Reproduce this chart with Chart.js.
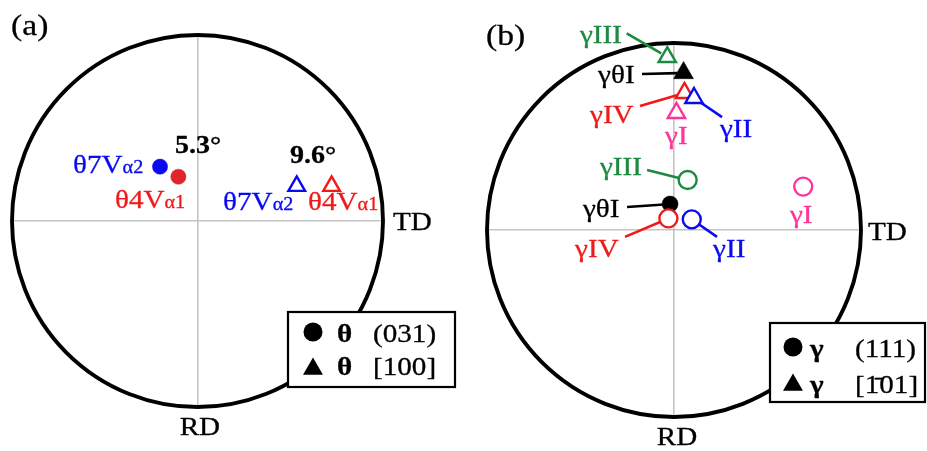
<!DOCTYPE html>
<html>
<head>
<meta charset="utf-8">
<script src="https://cdn.jsdelivr.net/npm/chart.js@4/dist/chart.umd.min.js"></script>
<style>
  html, body { margin: 0; padding: 0; background: #fff; }
  #wrap { position: relative; width: 927px; height: 451px; overflow: hidden; }
  canvas { position: absolute; top: 0; }
  #pa { left: 0; }
  #pb { left: 463px; }
</style>
</head>
<body>
<div id="wrap">
  <canvas id="pa" width="463" height="451"></canvas>
  <canvas id="pb" width="464" height="451"></canvas>
</div>
<script>
// (a) cementite (θ) variant poles, projected onto the unit circle
const thetaVariants = ['θ7Vα2', 'θ4Vα1'];
const theta031X = [-0.202, -0.103];
const theta031Y = [0.292, 0.238];
const theta100X = [0.535, 0.723];
const theta100Y = [0.188, 0.188];
const misorientation = ['5.3°', '9.6°'];

// (b) austenite (γ) variant poles, projected onto the unit circle
const gammaVariants = ['γI', 'γII', 'γIII', 'γIV', 'γθI'];
const gamma111X = [0.691, 0.095, 0.073, -0.030, -0.021];
const gamma111Y = [0.232, 0.057, 0.267, 0.062, 0.139];
const gamma101X = [0.013, 0.107, -0.036, 0.056, 0.051];
const gamma101Y = [0.626, 0.706, 0.925, 0.733, 0.840];

// axis / legend wording
const sampleAxes = ['TD', 'RD'];
const thetaPlanes = ['(031)', '[100]'];
const gammaPlanes = ['(111)', '[1\u030401]'];

// ---------------------------------------------------------------------------
const SERIF = '"Liberation Serif", "Times New Roman", serif';
const SX = 1.12; // the lettering is a little wider than plain Times
const BLUE = '#0a0af2', RED = '#f01a1a', RED_DOT = '#e0262c', GREEN = '#1c8a40', PINK = '#ff3399', BLACK = '#000000';

function fontOf(size, bold) { return (bold ? 'bold ' : '') + size + 'px ' + SERIF; }

// draws a run of text pieces [text, size, bold] starting at (x, y) baseline
function drawParts(ctx, parts, x, y, color, align) {
  ctx.save();
  ctx.translate(x, y);
  ctx.scale(SX, 1);
  ctx.fillStyle = color;
  ctx.strokeStyle = color;
  ctx.lineWidth = 0.3;
  ctx.lineJoin = 'round';
  ctx.textBaseline = 'alphabetic';
  ctx.textAlign = 'left';
  let w = 0;
  parts.forEach(p => { ctx.font = fontOf(p[1], p[2]); w += ctx.measureText(p[0]).width; });
  let cx = align === 'center' ? -w / 2 : 0;
  parts.forEach(p => {
    ctx.font = fontOf(p[1], p[2]);
    ctx.fillText(p[0], cx, 0);
    ctx.strokeText(p[0], cx, 0);
    cx += ctx.measureText(p[0]).width;
  });
  ctx.restore();
}

function marker(ctx, style, x, y, r, fill, stroke, lw) {
  ctx.save();
  ctx.beginPath();
  if (style === 'circle') {
    ctx.arc(x, y, r, 0, Math.PI * 2);
  } else {
    for (let k = 0; k < 3; k++) {
      const a = k * 2 * Math.PI / 3;
      const px = x + Math.sin(a) * r, py = y - Math.cos(a) * r;
      k ? ctx.lineTo(px, py) : ctx.moveTo(px, py);
    }
    ctx.closePath();
  }
  if (fill) { ctx.fillStyle = fill; ctx.fill(); }
  if (stroke) { ctx.lineWidth = lw; ctx.strokeStyle = stroke; ctx.stroke(); }
  ctx.restore();
}

// split "θ7Vα2" into the large part and the small α-suffix
function variantParts(name, big, small) {
  const m = name.match(/^(.*?)(α\d)$/);
  return m ? [[m[1], big], [m[2], small]] : [[name, big]];
}

// projection circle, reference cross, labels, leader lines and key box
const poleFigure = {
  id: 'poleFigure',
  beforeDatasetsDraw(chart, args, opts) {
    const { ctx, scales: { x, y } } = chart;
    const cx = x.getPixelForValue(0), cy = y.getPixelForValue(0);
    const rx = x.getPixelForValue(1) - cx, ry = cy - y.getPixelForValue(1);
    ctx.save();
    ctx.lineWidth = 3.9;
    ctx.strokeStyle = BLACK;
    ctx.beginPath();
    ctx.ellipse(cx, cy, rx, ry, 0, 0, Math.PI * 2);
    ctx.stroke();
    // leader lines from labels to their poles
    (opts.leaders || []).forEach(l => {
      const meta = chart.getDatasetMeta(l.ds);
      const el = meta.data[l.pt];
      const sx = x.getPixelForValue(l.x), sy = y.getPixelForValue(l.y);
      const ex = el.x, ey = el.y;
      const d = Math.hypot(ex - sx, ey - sy);
      const trim = (l.trim || 0);
      const tx = ex - (ex - sx) / d * trim, ty = ey - (ey - sy) / d * trim;
      ctx.beginPath();
      ctx.lineWidth = 2.6;
      ctx.strokeStyle = l.color;
      ctx.moveTo(sx, sy);
      ctx.lineTo(tx, ty);
      ctx.stroke();
    });
    ctx.restore();
  },
  afterDatasetsDraw(chart, args, opts) {
    const { ctx, scales: { x, y } } = chart;
    (opts.notes || []).forEach(n => {
      drawParts(ctx, n.parts, x.getPixelForValue(n.x), y.getPixelForValue(n.y), n.color, n.align);
    });
    const k = opts.key;
    if (k) {
      ctx.save();
      ctx.fillStyle = '#fff';
      ctx.fillRect(k.x, k.y, k.w, k.h);
      ctx.lineWidth = 2.2;
      ctx.strokeStyle = BLACK;
      ctx.strokeRect(k.x, k.y, k.w, k.h);
      ctx.restore();
      k.rows.forEach(r => {
        marker(ctx, r.style, k.x + k.mx, k.y + r.my, r.r, BLACK, null, 0);
        drawParts(ctx, [[k.sym, k.symSize, true]], k.x + k.sx, k.y + r.base, BLACK);
        drawParts(ctx, [[r.text, 26]], k.x + k.tx, k.y + r.base, BLACK);
      });
    }
  }
};

function baseOptions(padding, plugOpts) {
  return {
    responsive: false,
    animation: false,
    events: [],
    layout: { padding },
    plugins: { legend: { display: false }, tooltip: { enabled: false }, poleFigure: plugOpts },
    scales: {
      x: {
        type: 'linear', min: -1, max: 1,
        ticks: { display: false, stepSize: 1 },
        border: { display: false },
        grid: { drawTicks: false, lineWidth: 1.6, color: c => c.tick && c.tick.value === 0 ? '#c4c4c4' : 'rgba(0,0,0,0)' }
      },
      y: {
        type: 'linear', min: -1, max: 1,
        ticks: { display: false, stepSize: 1 },
        border: { display: false },
        grid: { drawTicks: false, lineWidth: 1.6, color: c => c.tick && c.tick.value === 0 ? '#c4c4c4' : 'rgba(0,0,0,0)' }
      }
    }
  };
}

// ------------------------------- panel (a) ---------------------------------
const thetaColors = [BLUE, RED];
const thetaDotColors = [BLUE, RED_DOT];
const aDatasets = thetaVariants.map((name, i) => ({
  label: name,
  data: [{ x: theta031X[i], y: theta031Y[i] }, { x: theta100X[i], y: theta100Y[i] }],
  pointStyle: ['circle', 'triangle'],
  pointRadius: [7.6, 9.6],
  pointBackgroundColor: [thetaDotColors[i], '#ffffff'],
  pointBorderColor: [thetaDotColors[i], thetaColors[i]],
  pointBorderWidth: [0.5, 2.4],
  showLine: false,
  clip: false,
  order: i === 0 ? 2 : 1
}));

const aNotes = [
  { parts: variantParts(thetaVariants[0], 26, 18), x: -0.671, y: 0.258, color: BLUE },
  { parts: variantParts(thetaVariants[1], 26, 18), x: -0.445, y: 0.07, color: RED },
  { parts: [[misorientation[0], 25, true]], x: -0.121, y: 0.366, color: BLACK },
  { parts: [[misorientation[1], 25, true]], x: 0.499, y: 0.312, color: BLACK },
  { parts: variantParts(thetaVariants[0], 26, 18), x: 0.138, y: 0.059, color: BLUE },
  { parts: variantParts(thetaVariants[1], 26, 18), x: 0.596, y: 0.059, color: RED },
  { parts: [[sampleAxes[0], 26]], x: 1.054, y: -0.048, color: BLACK },
  { parts: [[sampleAxes[1], 26]], x: 0.013, y: -1.15, color: BLACK, align: 'center' },
  { parts: [['(a)', 30]], x: -1.005, y: 1.0, color: BLACK }
];

new Chart(document.getElementById('pa'), {
  type: 'scatter',
  data: { datasets: aDatasets },
  options: baseOptions({ left: 12, right: 80, top: 35, bottom: 44 }, {
    notes: aNotes,
    key: {
      x: 288, y: 312, w: 167, h: 75, mx: 25, sx: 49, tx: 85, sym: 'θ', symSize: 26,
      rows: [
        { style: 'circle', r: 9.5, my: 20, base: 30, text: thetaPlanes[0] },
        { style: 'triangle', r: 11.5, my: 57, base: 63, text: thetaPlanes[1] }
      ]
    }
  }),
  plugins: [poleFigure]
});

// ------------------------------- panel (b) ---------------------------------
const gammaColors = [PINK, BLUE, GREEN, RED, BLACK];
const gammaOrder = [5, 1, 4, 2, 3];
const bDatasets = gammaVariants.map((name, i) => {
  const solid = i === 4;
  return {
    label: name,
    data: [{ x: gamma111X[i], y: gamma111Y[i] }, { x: gamma101X[i], y: gamma101Y[i] }],
    pointStyle: ['circle', 'triangle'],
    pointRadius: solid ? [8, 11.5] : [9, 10],
    pointBackgroundColor: solid ? BLACK : '#ffffff',
    pointBorderColor: gammaColors[i],
    pointBorderWidth: solid ? 0.5 : 2.4,
    showLine: false,
    clip: false,
    order: gammaOrder[i]
  };
});

const bNotes = [
  { parts: [[gammaVariants[2], 26]], x: -0.503, y: 1.0, color: GREEN },
  { parts: [[gammaVariants[4], 26]], x: -0.406, y: 0.786, color: BLACK },
  { parts: [[gammaVariants[3], 26]], x: -0.449, y: 0.572, color: RED },
  { parts: [[gammaVariants[0], 26]], x: -0.048, y: 0.46, color: PINK },
  { parts: [[gammaVariants[1], 26]], x: 0.246, y: 0.497, color: BLUE },
  { parts: [[gammaVariants[2], 26]], x: -0.396, y: 0.294, color: GREEN },
  { parts: [[gammaVariants[4], 26]], x: -0.487, y: 0.07, color: BLACK },
  { parts: [[gammaVariants[3], 26]], x: -0.529, y: -0.144, color: RED },
  { parts: [[gammaVariants[1], 26]], x: 0.209, y: -0.144, color: BLUE },
  { parts: [[gammaVariants[0], 26]], x: 0.62, y: 0.037, color: PINK },
  { parts: [[sampleAxes[0], 26]], x: 1.037, y: -0.053, color: BLACK },
  { parts: [[sampleAxes[1], 26]], x: 0.016, y: -1.15, color: BLACK, align: 'center' },
  { parts: [['(b)', 30]], x: -1.005, y: 0.989, color: BLACK }
];

// leader lines: label end (data units) -> pole of dataset ds, point pt
const bLeaders = [
  { x: -0.253, y: 1.052, ds: 2, pt: 1, trim: 7, color: GREEN },
  { x: -0.171, y: 0.834, ds: 4, pt: 1, trim: 6, color: BLACK },
  { x: -0.182, y: 0.663, ds: 3, pt: 1, trim: 7, color: RED },
  { x: 0.257, y: 0.604, ds: 1, pt: 1, trim: 8, color: BLUE },
  { x: -0.144, y: 0.321, ds: 2, pt: 0, trim: 9, color: GREEN },
  { x: -0.251, y: 0.123, ds: 4, pt: 0, trim: 6, color: BLACK },
  { x: -0.262, y: -0.037, ds: 3, pt: 0, trim: 9, color: RED },
  { x: 0.23, y: -0.037, ds: 1, pt: 0, trim: 9, color: BLUE }
];

new Chart(document.getElementById('pb'), {
  type: 'scatter',
  data: { datasets: bDatasets },
  options: baseOptions({ left: 24, right: 66, top: 43, bottom: 34 }, {
    notes: bNotes,
    leaders: bLeaders,
    key: {
      x: 307, y: 323, w: 155, h: 79, mx: 23, sx: 40, tx: 85, sym: 'γ', symSize: 26,
      rows: [
        { style: 'circle', r: 9.5, my: 24, base: 34, text: gammaPlanes[0] },
        { style: 'triangle', r: 11.5, my: 62, base: 70, text: gammaPlanes[1] }
      ]
    }
  }),
  plugins: [poleFigure]
});
</script>
</body>
</html>
